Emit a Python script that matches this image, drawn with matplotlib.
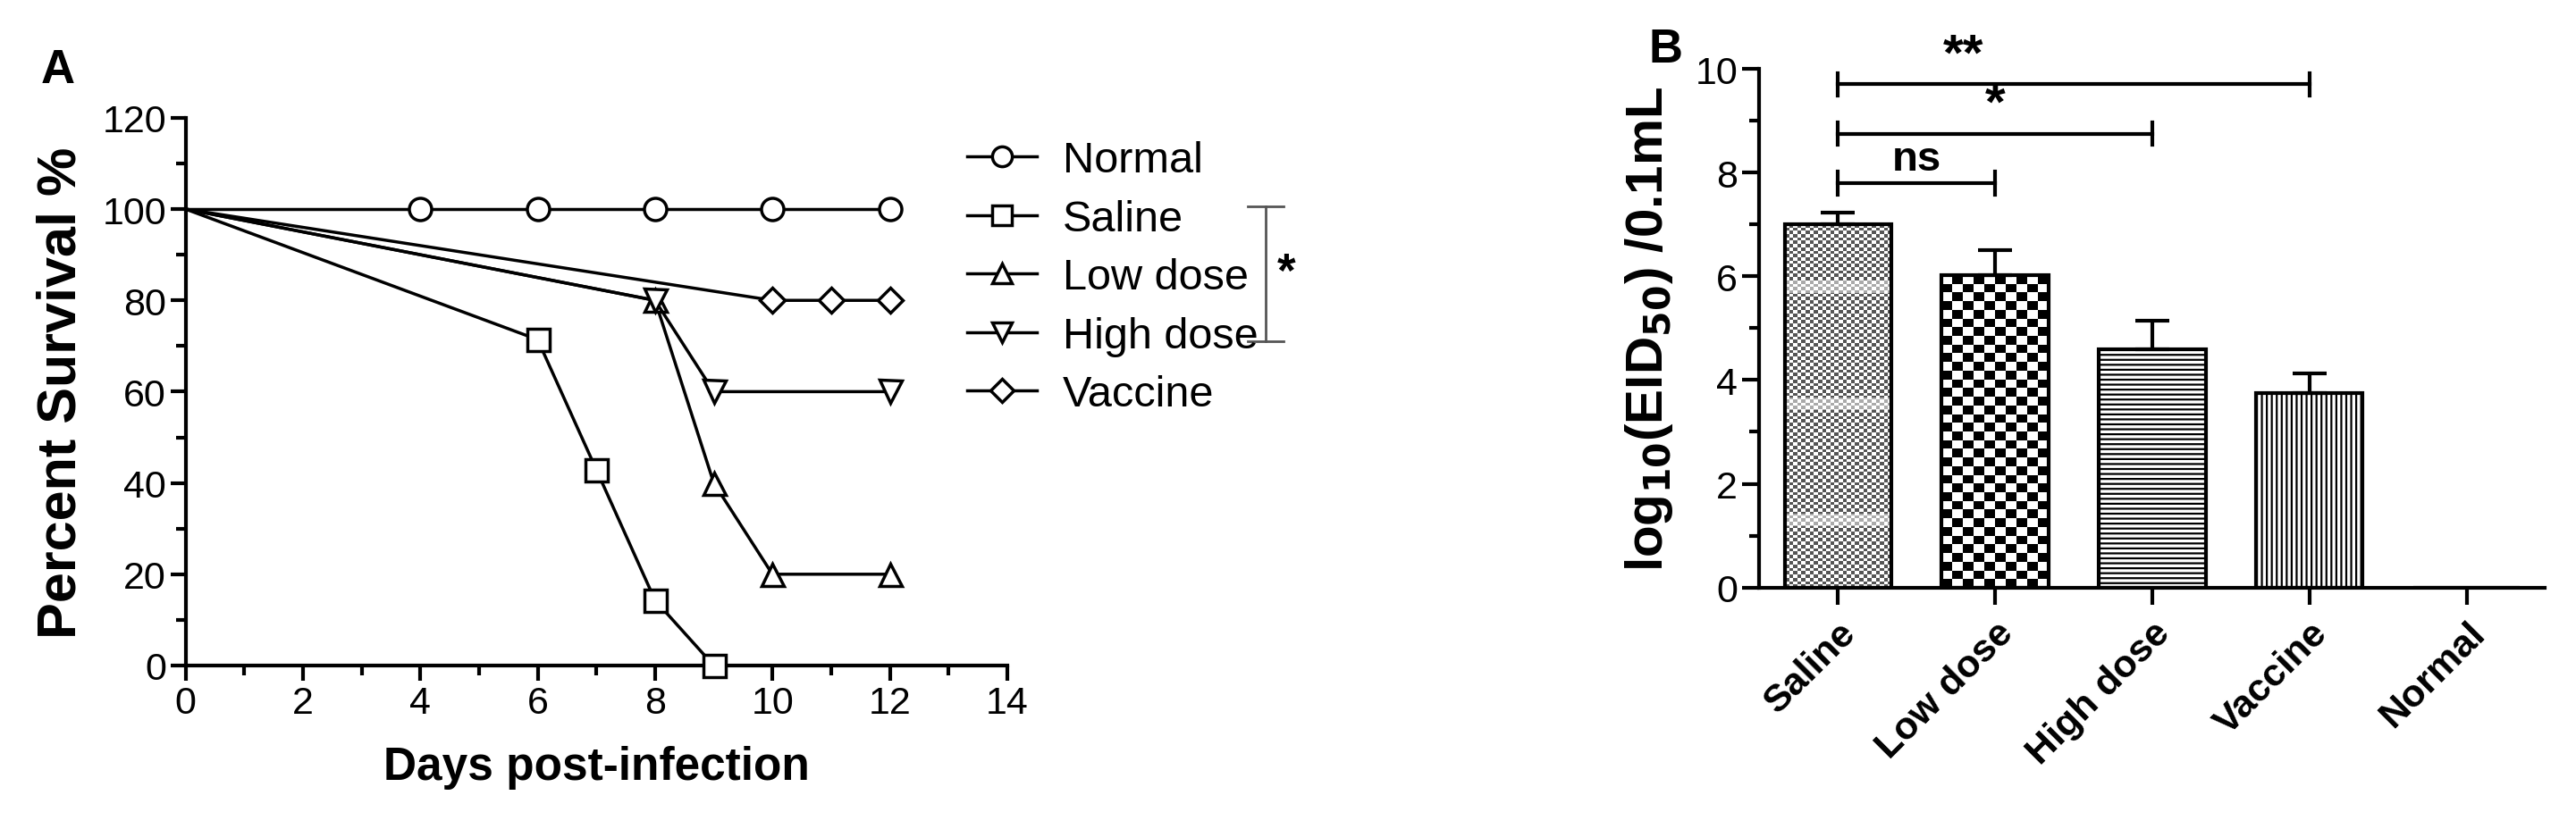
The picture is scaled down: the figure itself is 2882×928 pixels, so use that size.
import numpy as np
import matplotlib
matplotlib.use('Agg')
import matplotlib.pyplot as plt
from matplotlib.lines import Line2D

plt.rcParams['font.family'] = ['Liberation Sans Narrow', 'Liberation Sans', 'DejaVu Sans']
plt.rcParams['mathtext.default'] = 'bf'
plt.rcParams['hatch.linewidth'] = 1.6

# ---- panel A: survival ----
normal_x = [0, 4, 6, 8, 10, 12]
normal_y = [100, 100, 100, 100, 100, 100]
saline_x = [0, 6, 7, 8, 9]
saline_y = [100, 71.4, 42.9, 14.3, 0]
low_x = [0, 8, 9, 10, 12]
low_y = [100, 80, 40, 20, 20]
high_x = [0, 8, 9, 12]
high_y = [100, 80, 60, 60]
vacc_x = [0, 10, 11, 12]
vacc_y = [100, 80, 80, 80]

# ---- panel B: virus titre ----
groups = ['Saline', 'Low dose', 'High dose', 'Vaccine', 'Normal']
titre = [7.0, 6.02, 4.6, 3.75, 0.0]
titre_err = [0.22, 0.48, 0.55, 0.37, 0.0]
sig_pairs = [(0, 1, 7.8, 'ns'), (0, 2, 8.75, '*'), (0, 3, 9.7, '**')]

BOLD = ['Liberation Sans', 'DejaVu Sans']

fig = plt.figure(figsize=(28.82, 9.29), dpi=100)

ax1 = fig.add_axes([0.072, 0.197, 0.319, 0.66])
series = [('Normal', normal_x, normal_y, 'o'),
          ('Saline', saline_x, saline_y, 's'),
          ('Low dose', low_x, low_y, '^'),
          ('High dose', high_x, high_y, 'v'),
          ('Vaccine', vacc_x, vacc_y, 'D')]
for name, x, y, m in series:
    ms = 18 if m != 'D' else 14
    ax1.plot(x, y, color='black', lw=2.5, marker=m, ms=ms, mfc='white', mec='black',
             mew=2.5, markevery=list(range(1, len(x))), label=name, clip_on=False, zorder=3)
ax1.set_xlim(0, 14)
ax1.set_ylim(0, 120)
ax1.set_xticks(range(0, 15, 2))
ax1.set_xticks(range(0, 15, 1), minor=True)
ax1.set_yticks(range(0, 121, 20))
ax1.set_yticks(range(0, 121, 10), minor=True)
for s in ['top', 'right']:
    ax1.spines[s].set_visible(False)
for s in ['left', 'bottom']:
    ax1.spines[s].set_linewidth(3)
ax1.tick_params(which='major', length=12, width=3, labelsize=31, direction='out')
ax1.tick_params(which='minor', length=8, width=3, direction='out')
ax1.set_xlabel('Days post-infection', fontsize=37, fontweight='bold', family=BOLD, labelpad=20)
ax1.set_ylabel('Percent Survival %', fontsize=44, fontweight='bold', family=BOLD, labelpad=12)
handles = [Line2D([], [], color='black', lw=2.5, marker=m, ms=16 if m != 'D' else 13,
                  mfc='white', mec='black', mew=2.5) for _, _, _, m in series]
ax1.legend(handles, [s[0] for s in series], loc='upper left', bbox_to_anchor=(0.93, 0.99),
           frameon=False, fontsize=35, handlelength=1.6, labelspacing=0.42,
           handletextpad=0.6, borderaxespad=0)
# significance bracket
ax1.plot([18.4, 18.4], [100.5, 71], color='#555555', lw=2, clip_on=False)
ax1.plot([18.1, 18.7], [100.5, 100.5], color='#555555', lw=2, clip_on=False)
ax1.plot([18.1, 18.7], [71, 71], color='#555555', lw=2, clip_on=False)
ax1.text(18.6, 86, '*', fontsize=38, va='center', ha='left', fontweight='bold')
fig.text(0.016, 0.9, 'A', fontsize=38, fontweight='bold', family=BOLD)

# ---- panel B ----
ax2 = fig.add_axes([0.683, 0.291, 0.305, 0.625])
pos = np.arange(len(groups))
width = 0.68
hatches = [None, None, '---', '|||', None]
faces = ['none', 'none', 'white', 'white', 'white']
bars = ax2.bar(pos, titre, width=width, color=faces, edgecolor='black', lw=3, zorder=2)
for b, h in zip(bars, hatches):
    if h:
        b.set_hatch(h)
ax2.errorbar(pos[:4], titre[:4], yerr=[np.zeros(4), titre_err[:4]], fmt='none',
             ecolor='black', elinewidth=3, capsize=14, capthick=3, zorder=3)


# checker textures for Saline (fine) and Low dose (coarse)
def checker(n_x, n_y):
    return (np.indices((n_y, n_x)).sum(axis=0) % 2).astype(float)


for i, (nx, ny, vmax) in enumerate([(26, 110, 1.5), (10, 36, 1.0)]):
    b = bars[i]
    x0 = b.get_x()
    img = ax2.imshow(checker(nx, ny), cmap='gray_r', vmin=0, vmax=vmax,
                     extent=[x0, x0 + b.get_width(), 0, b.get_height()],
                     interpolation='nearest', aspect='auto', zorder=1.5)
    img.set_clip_path(b)
# pale bands on Saline bar
for yb in [1.3, 3.55, 5.8]:
    ax2.fill_between([bars[0].get_x(), bars[0].get_x() + width], yb - 0.12, yb + 0.12,
                     color='white', alpha=0.5, lw=0, zorder=1.8)

ax2.set_xlim(-0.5, 4.5)
ax2.set_ylim(0, 10)
ax2.set_aspect('auto')
ax2.set_xticks(pos)
ax2.set_xticklabels(groups, rotation=45, ha='right', rotation_mode='anchor',
                    fontsize=32, fontweight='bold', family=BOLD)
ax2.set_yticks(range(0, 11, 2))
ax2.set_yticks(range(0, 11, 1), minor=True)
for s in ['top', 'right']:
    ax2.spines[s].set_visible(False)
for s in ['left', 'bottom']:
    ax2.spines[s].set_linewidth(3)
ax2.tick_params(which='major', length=14, width=3, labelsize=31, direction='out')
ax2.tick_params(which='minor', length=8, width=3, direction='out')
ax2.tick_params(axis='x', pad=8)
ax2.set_ylabel(r'log$_{10}$(EID$_{50}$) /0.1mL', fontsize=42, fontweight='bold',
               family=BOLD, labelpad=16)
for a, b, y, lab in sig_pairs:
    ax2.plot([a, b], [y, y], color='black', lw=3)
    for xx in (a, b):
        ax2.plot([xx, xx], [y - 0.22, y + 0.22], color='black', lw=3)
    ax2.text((a + b) / 2 if lab != '**' else 0.8, y + 0.08, lab, ha='center', va='bottom',
             fontsize=34 if lab == 'ns' else 42, fontweight='bold')
fig.text(0.64, 0.925, 'B', fontsize=38, fontweight='bold', family=BOLD)

fig.savefig('out.png', dpi=100)
